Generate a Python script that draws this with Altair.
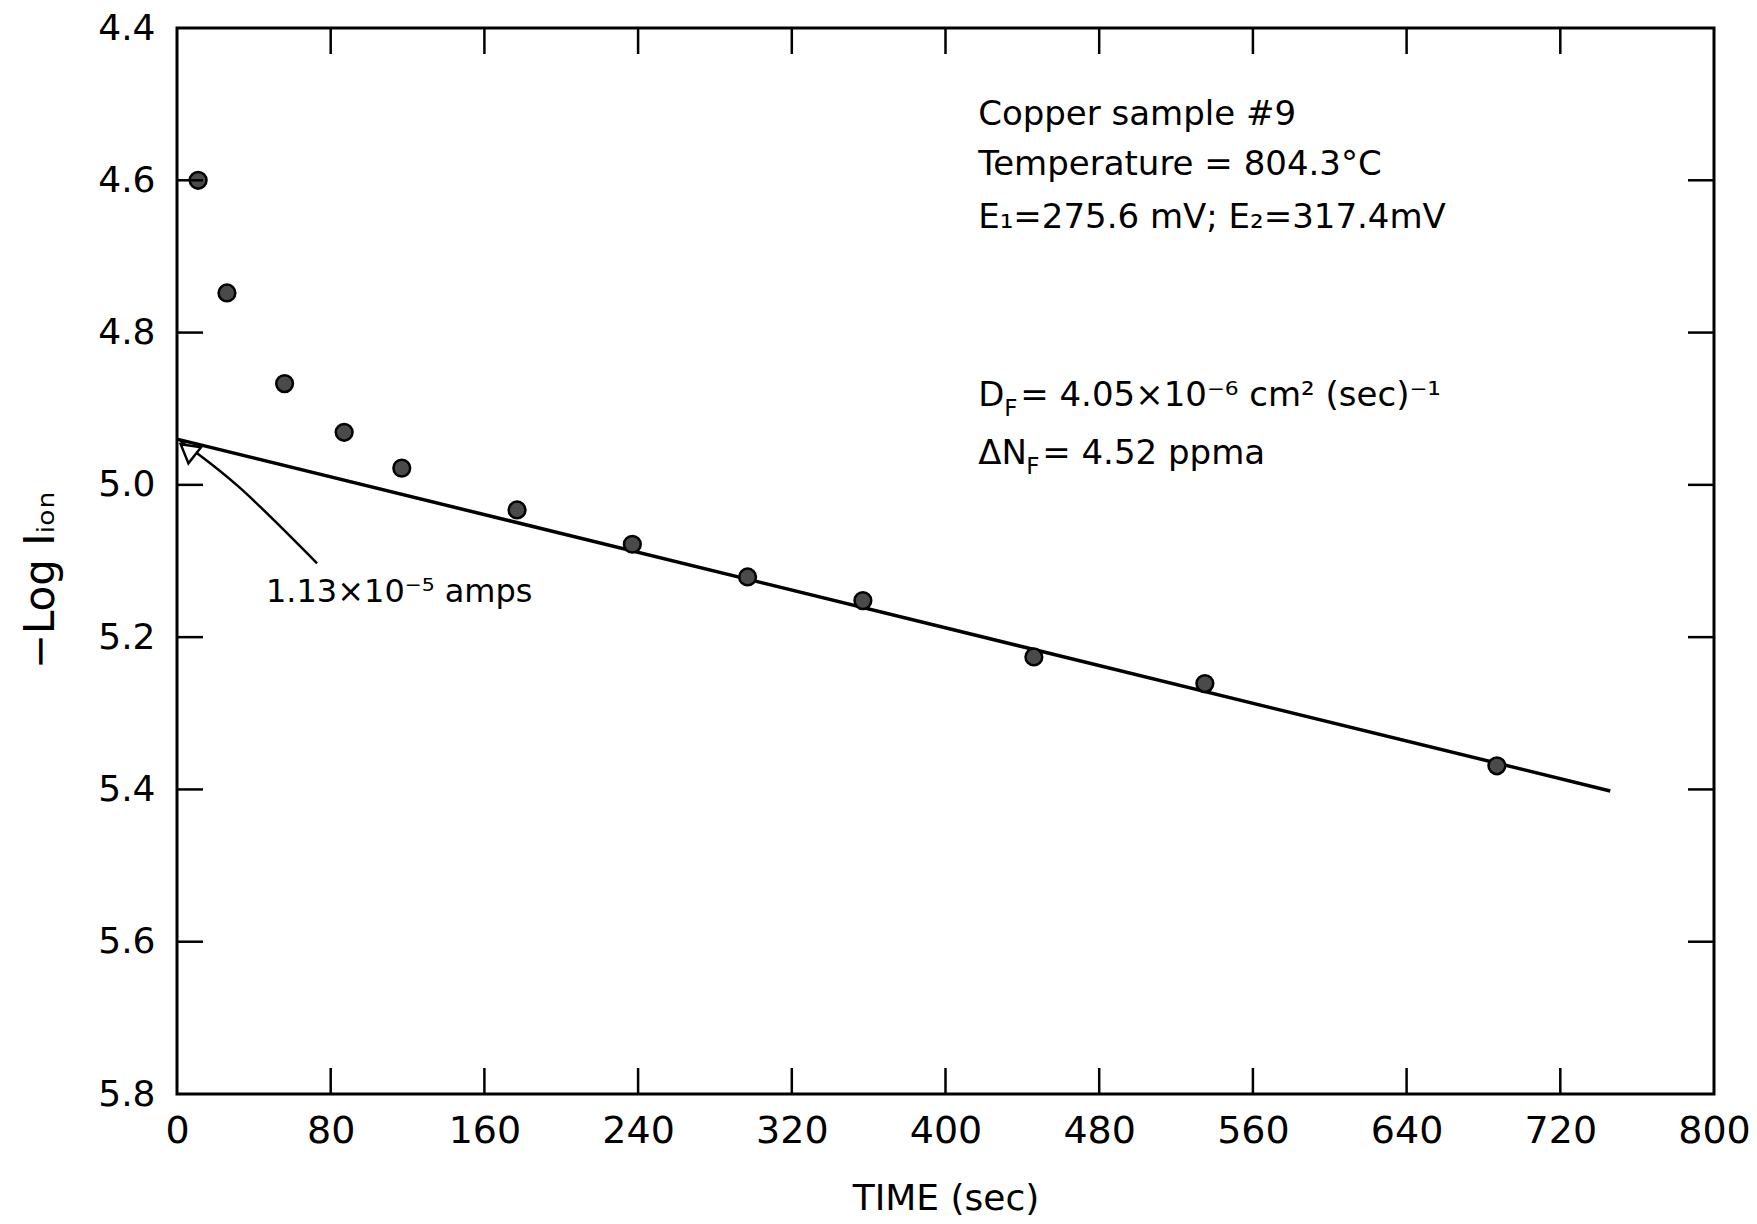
import altair as alt
import pandas as pd

# ---- data ----
time_s = [11, 26, 56, 87, 117, 177, 237, 297, 357, 446, 535, 687]
neg_log_i = [4.600, 4.748, 4.867, 4.931, 4.978, 5.033, 5.078, 5.121, 5.152, 5.226, 5.261, 5.369]

fit_time = [0, 746]
fit_value = [4.940, 5.402]

x_ticks = [80, 160, 240, 320, 400, 480, 560, 640, 720]
y_ticks = [4.6, 4.8, 5.0, 5.2, 5.4, 5.6]
x_labels = [0, 80, 160, 240, 320, 400, 480, 560, 640, 720, 800]
y_labels = [4.4, 4.6, 4.8, 5.0, 5.2, 5.4, 5.6, 5.8]

arrow_x = [72.9, 32.8, 1.6]
arrow_y = [5.103, 5.004, 4.942]
arrow_head = (5.6, 4.954)

info_lines = ["Copper sample #9", "Temperature = 804.3°C", "E₁=275.6 mV; E₂=317.4mV"]
info_y = [4.514, 4.580, 4.650]
info_x = 417

W, H = 1537, 1066
FONT = "DejaVu Sans"
TICK = 26
FS = 34

xs = alt.Scale(domain=[0, 800], nice=False, zero=False)
ys = alt.Scale(domain=[4.4, 5.8], reverse=True, nice=False, zero=False)

pts = pd.DataFrame({"t": time_s, "v": neg_log_i})
fit = pd.DataFrame({"t": fit_time, "v": fit_value})
xt = pd.DataFrame({"t": x_ticks})
yt = pd.DataFrame({"v": y_ticks})
arr = pd.DataFrame({"t": arrow_x, "v": arrow_y, "o": list(range(len(arrow_x)))})
head = pd.DataFrame({"t": [arrow_head[0]], "v": [arrow_head[1]]})
info = pd.DataFrame({"txt": info_lines, "t": [info_x] * 3, "v": info_y})

x_axis = alt.Axis(values=x_labels, ticks=False, tickSize=0, domain=False, grid=False,
                  labelFlush=False, labelOverlap=False,
                  labelFont=FONT, labelFontSize=38, labelColor="black", labelPadding=18,
                  title="TIME (sec)", titleFont=FONT, titleFontSize=36, titleFontWeight="normal",
                  titleColor="black", titleY=104, titleBaseline="middle")
y_axis = alt.Axis(values=y_labels, format=".1f", ticks=False, tickSize=0, domain=False, grid=False,
                  labelFlush=False, labelOverlap=False,
                  labelFont=FONT, labelFontSize=36, labelColor="black", labelPadding=22,
                  title="−Log Iᵢₒₙ", titleFont=FONT, titleFontSize=42, titleFontWeight="normal",
                  titleColor="black", titleX=-137, titleY=552, titleAngle=270,
                  titleBaseline="middle", titleAlign="center")

base = alt.Chart(pts).mark_point(opacity=0).encode(
    x=alt.X("t:Q", scale=xs, axis=x_axis),
    y=alt.Y("v:Q", scale=ys, axis=y_axis),
)

fit_line = alt.Chart(fit).mark_line(color="black", strokeWidth=3.5).encode(
    x=alt.X("t:Q", scale=xs), y=alt.Y("v:Q", scale=ys))

points = alt.Chart(pts).mark_point(filled=True, fill="#4a4a4a", stroke="black",
                                   strokeWidth=2.5, size=280, opacity=1).encode(
    x=alt.X("t:Q", scale=xs), y=alt.Y("v:Q", scale=ys))

# inward ticks on all four sides
tb = alt.Chart(xt).mark_rule(color="black", strokeWidth=2.5).encode(
    x=alt.X("t:Q", scale=xs), y=alt.value(H), y2=alt.value(H - TICK))
tt = alt.Chart(xt).mark_rule(color="black", strokeWidth=2.5).encode(
    x=alt.X("t:Q", scale=xs), y=alt.value(0), y2=alt.value(TICK))
tl = alt.Chart(yt).mark_rule(color="black", strokeWidth=2.5).encode(
    y=alt.Y("v:Q", scale=ys), x=alt.value(0), x2=alt.value(TICK))
tr = alt.Chart(yt).mark_rule(color="black", strokeWidth=2.5).encode(
    y=alt.Y("v:Q", scale=ys), x=alt.value(W), x2=alt.value(W - TICK))

arrow_line = alt.Chart(arr).mark_line(color="black", strokeWidth=2.5, interpolate="natural").encode(
    x=alt.X("t:Q", scale=xs), y=alt.Y("v:Q", scale=ys), order="o:O")
arrow_tip = alt.Chart(head).mark_point(shape="triangle-up", angle=308, size=420, filled=True,
                                        fill="white", stroke="black", strokeWidth=2.5,
                                        opacity=1).encode(
    x=alt.X("t:Q", scale=xs), y=alt.Y("v:Q", scale=ys))

amps = alt.Chart(pd.DataFrame({"t": [46.3], "v": [5.141], "txt": ["1.13×10⁻⁵ amps"]})).mark_text(
    font=FONT, fontSize=32, align="left", baseline="middle", color="black").encode(
    x=alt.X("t:Q", scale=xs), y=alt.Y("v:Q", scale=ys), text="txt:N")

info_txt = alt.Chart(info).mark_text(font=FONT, fontSize=FS, align="left", baseline="middle",
                                     color="black").encode(
    x=alt.X("t:Q", scale=xs), y=alt.Y("v:Q", scale=ys), text="txt:N")


def piece(txt, yv, dx, dy=0, size=FS):
    return alt.Chart(pd.DataFrame({"t": [info_x], "v": [yv], "txt": [txt]})).mark_text(
        font=FONT, fontSize=size, align="left", baseline="middle", color="black", dx=dx, dy=dy
    ).encode(x=alt.X("t:Q", scale=xs), y=alt.Y("v:Q", scale=ys), text="txt:N")


df_parts = [piece("D", 4.883, 0), piece("F", 4.883, 26, 13, 23),
            piece("= 4.05×10⁻⁶ cm² (sec)⁻¹", 4.883, 42)]
dn_parts = [piece("ΔN", 4.960, 0), piece("F", 4.960, 48, 13, 23),
            piece("= 4.52 ppma", 4.960, 64)]

chart = alt.layer(base, fit_line, points, tb, tt, tl, tr, arrow_line, arrow_tip, amps, info_txt,
                  *df_parts, *dn_parts).properties(
    width=W, height=H,
    autosize=alt.AutoSizeParams(type="none"),
    padding={"left": 177, "top": 28, "right": 43, "bottom": 130},
    background="white",
).configure_view(stroke="black", strokeWidth=3)

chart.save("out.html", embed_options={"renderer": "svg", "actions": False})
